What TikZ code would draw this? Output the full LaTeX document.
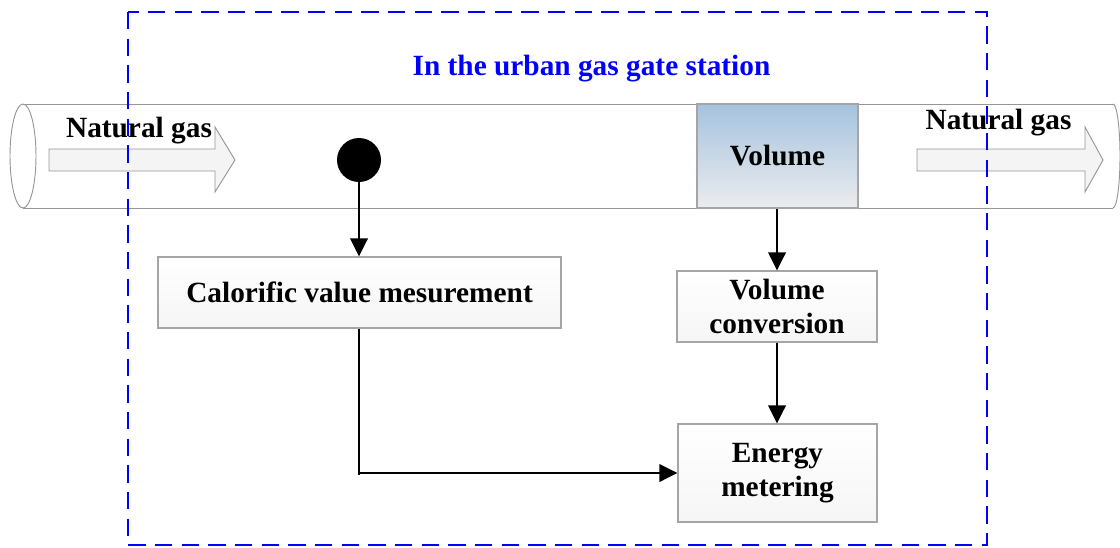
\documentclass[tikz,border=0pt]{standalone}
\usepackage{fontspec}
\setmainfont{Liberation Serif}
\usetikzlibrary{arrows.meta}
\definecolor{pipegray}{RGB}{150,150,150}
\definecolor{boxgray}{RGB}{165,165,165}
\definecolor{volblue}{RGB}{165,195,222}
\definecolor{volgray}{RGB}{236,236,238}
\definecolor{arrowfill}{RGB}{244,244,244}
\tikzset{
  lbl/.style={font=\bfseries\fontsize{22}{25.5}\selectfont, align=center, inner sep=0pt},
  procbox/.style={draw=boxgray, line width=0.8pt, top color=white, bottom color=volgray!50, lbl},
  flow/.style={line width=1.9pt, -{Triangle[length=13.5pt,width=13pt]}},
  pipe/.style={draw=pipegray, line width=0.7pt},
  gasarrow/.style={draw=pipegray, line width=0.7pt, fill=arrowfill},
}
\begin{document}
\begin{tikzpicture}[x=0.75pt,y=-0.75pt]
\useasboundingbox (0,0) rectangle (1120,547);
% pipe
\draw[pipe] (23,104) -- (1113,104);
\draw[pipe] (23,208) -- (1113,208);
\draw[pipe] (23,156) ellipse [x radius=13, y radius=52];
\draw[pipe] (1113,104) arc[start angle=-90, end angle=90, x radius=7, y radius=52];
% gas arrows
\draw[gasarrow] (49,149) -- (215,149) -- (215,127) -- (235,160) -- (215,192) -- (215,171) -- (49,171) -- cycle;
\draw[gasarrow] (917,149) -- (1085,149) -- (1085,127) -- (1103,160) -- (1085,192) -- (1085,171) -- (917,171) -- cycle;
\node[lbl] (ngl) at (139,131) {Natural gas};
\node[lbl] (ngr) at (998.5,123) {Natural gas};
% volume box
\node[draw=boxgray, line width=0.8pt, top color=volblue, bottom color=volgray, minimum width=120.75pt, minimum height=78pt, lbl] (vol) at (777.5,156) {Volume};
% sensor dot
\node[circle, fill=black, minimum size=33pt, inner sep=0pt] (dot) at (359,160) {};
% process boxes
\node[procbox, minimum width=302.25pt, minimum height=53.25pt] (cal) at (359.5,292.5) {Calorific value mesurement};
\node[procbox, minimum width=150pt, minimum height=53.25pt] (conv) at (777,306.5) {Volume\\conversion};
\node[procbox, minimum width=149.25pt, minimum height=73.5pt] (energy) at (777.5,473) {Energy\\metering};
% connectors
\draw[flow] (dot.south) -- (cal.north -| dot.south);
\draw[flow] (vol.south -| conv.north) -- (conv.north);
\draw[flow] (conv.south) -- (energy.north -| conv.south);
\coordinate (corner) at (359,473);
\draw[line width=1.9pt] (cal.south -| corner) -- ([yshift=-1.5pt]corner);
\draw[flow] (corner) -- (energy.west);
% station boundary
\draw[blue, line width=2.2pt, dash pattern=on 13pt off 7pt] (128,12) rectangle (987,545);
\node[lbl, text=blue] (title) at (591.5,69) {In the urban gas gate station};
\end{tikzpicture}
\end{document}
